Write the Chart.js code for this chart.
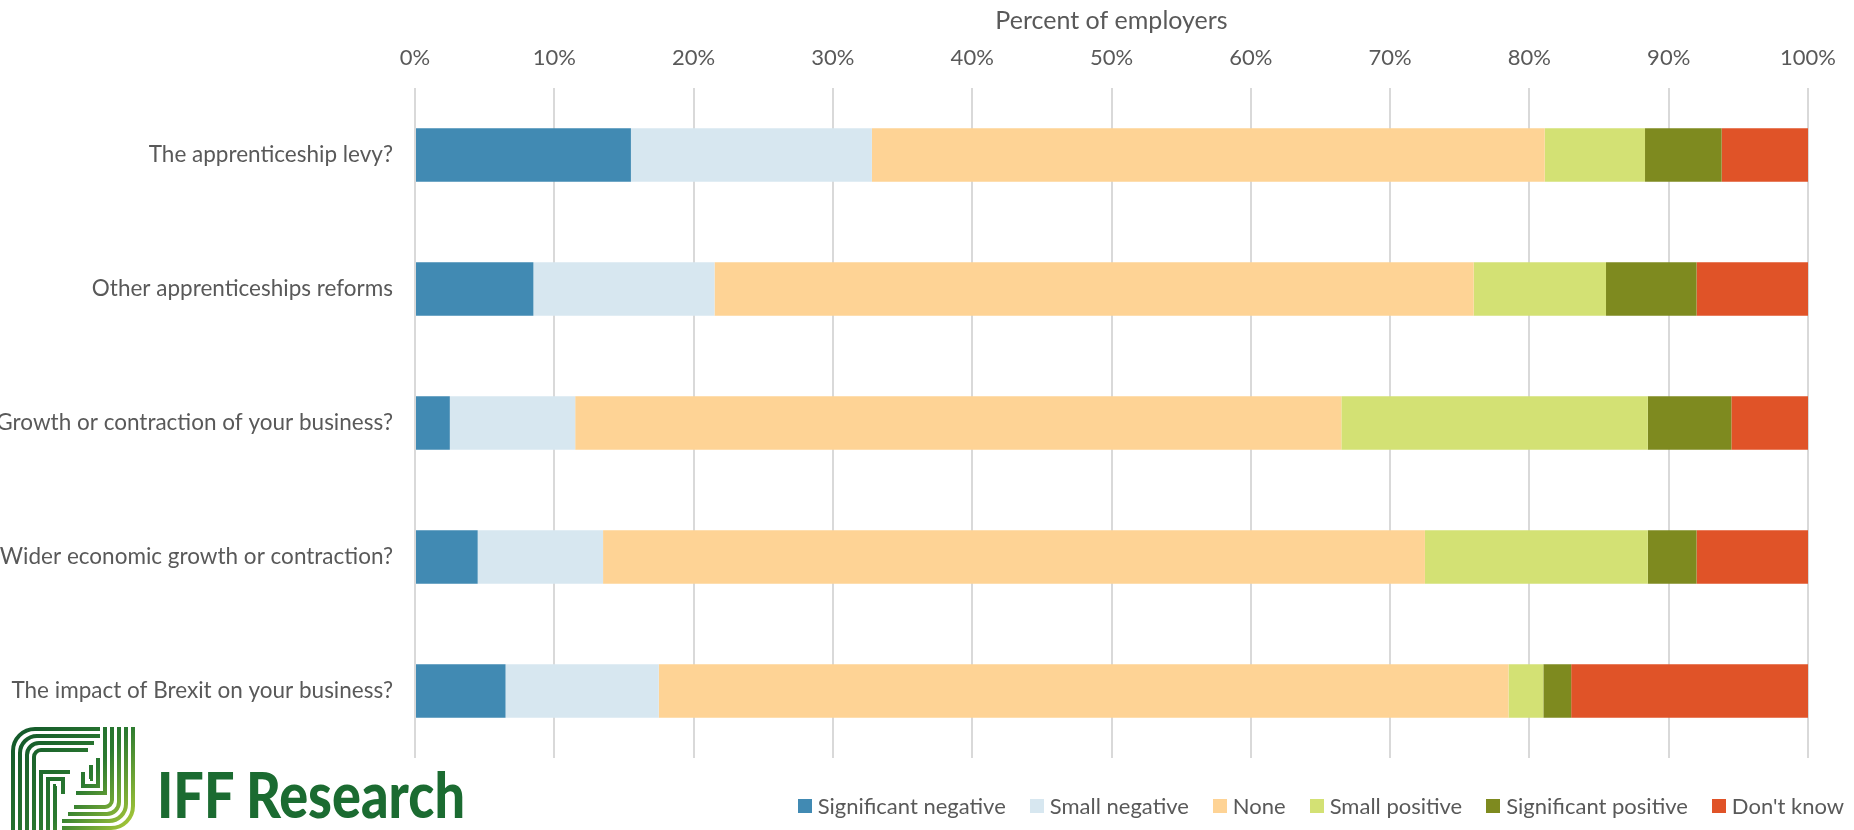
<!DOCTYPE html>
<html>
<head>
<meta charset="utf-8">
<script src="https://cdn.jsdelivr.net/npm/chart.js@4.4.1/dist/chart.umd.min.js"></script>
<style>
	html, body { margin: 0; padding: 0; background: #fff; }
	#wrap { position: relative; width: 1854px; height: 830px; overflow: hidden; }
	#legend {
		position: absolute; right: 10px; top: 793px; height: 26px;
		display: flex; align-items: center;
		font: 22px Lato, sans-serif; color: #595959; line-height: 26px;
	}
	#legend .item { display: flex; align-items: center; margin-left: 24px; white-space: nowrap; }
	#legend .box { width: 14px; height: 14px; margin-right: 6px; }
	#logo { position: absolute; left: 0; top: 720px; filter: blur(0.5px); }
</style>
</head>
<body>
<div id="wrap">
	<canvas id="impactChart" width="1854" height="830"></canvas>
	<div id="legend"></div>
	<svg id="logo" width="480" height="110" viewBox="0 0 480 110">
		<defs>
			<linearGradient id="iffGreen" gradientUnits="userSpaceOnUse" x1="10" y1="7" x2="140" y2="115">
				<stop offset="0" stop-color="#11552a"/>
				<stop offset="0.55" stop-color="#2b7a30"/>
				<stop offset="1" stop-color="#c0d83a"/>
			</linearGradient>
		</defs>
		<g fill="none" stroke="url(#iffGreen)" stroke-width="4">
			<!-- F: nested lines round the top-left corner -->
			<path d="M13 110 V31 A22 22 0 0 1 35 9 H100"/>
			<path d="M20 110 V33 A17 17 0 0 1 37 16 H100"/>
			<path d="M27 110 V35 A12 12 0 0 1 39 23 H94"/>
			<path d="M34 110 V37 A7 7 0 0 1 41 30 H88"/>
			<!-- F middle arm -->
			<path d="M41 110 V52 H70"/>
			<path d="M48 110 V59 H63 V74"/>
			<path d="M55 110 V66 H56"/>
			<!-- J: nested lines round the bottom-right corner -->
			<path d="M133 7 V86 A22 22 0 0 1 111 108 H62"/>
			<path d="M126 7 V84 A17 17 0 0 1 109 101 H62"/>
			<path d="M119 7 V82 A12 12 0 0 1 107 94 H68"/>
			<path d="M112 7 V80 A7 7 0 0 1 105 87 H74"/>
			<!-- J middle arm -->
			<path d="M105 7 V73 H76"/>
			<path d="M98 38 V66 H83 V52"/>
			<path d="M91 45 V59 H90"/>
		</g>
		<text x="157" y="98" fill="#1b6b31" font-family="Lato, sans-serif" font-weight="900"
			font-size="62" textLength="308" lengthAdjust="spacingAndGlyphs">IFF Research</text>
	</svg>
</div>
<script>
// Employer survey: perceived impact of each factor, percent of employers
const categories = [
	"The apprenticeship levy?",
	"Other apprenticeships reforms",
	"Growth or contraction of your business?",
	"Wider economic growth or contraction?",
	"The impact of Brexit on your business?",
];
const significantNegative = [15.5, 8.5, 2.5, 4.5, 6.5];
const smallNegative = [17.3, 13, 9, 9, 11];
const none = [48.3, 54.5, 55, 59, 61];
const smallPositive = [7.2, 9.5, 22, 16, 2.5];
const significantPositive = [5.5, 6.5, 6, 3.5, 2];
const dontKnow = [6.2, 8, 5.5, 8, 17];

const seriesNames = ["Significant negative", "Small negative", "None", "Small positive", "Significant positive", "Don't know"];
const seriesValues = [significantNegative, smallNegative, none, smallPositive, significantPositive, dontKnow];
const colours = ["#418ab3", "#d7e7f0", "#fed395", "#d3e174", "#7e8a1f", "#e05328"];
const tickSuffix = "%";

const textColour = "#595959";
const tickFont = { family: "Lato, sans-serif", size: 22 };
const labelFont = { family: "Lato, sans-serif", size: 22.5 };
const titleFont = { family: "Lato, sans-serif", size: 25 };

const datasets = seriesNames.map((name, i) => ({
	label: name,
	data: seriesValues[i],
	backgroundColor: colours[i],
	borderWidth: 0,
	barPercentage: 0.4,
	categoryPercentage: 1,
}));

new Chart(document.getElementById("impactChart"), {
	type: "bar",
	data: { labels: categories, datasets },
	options: {
		indexAxis: "y",
		responsive: false,
		animation: false,
		layout: { padding: { top: 0, right: 46, bottom: 72, left: 0 } },
		plugins: {
			legend: { display: false },
			tooltip: { enabled: false },
		},
		scales: {
			x: {
				position: "top",
				stacked: true,
				min: 0,
				max: 100,
				ticks: {
					stepSize: 10,
					color: textColour,
					font: tickFont,
					padding: 17,
					callback: (v) => v + tickSuffix,
				},
				grid: { color: "#d9d9d9", lineWidth: 2, drawTicks: false },
				border: { display: false },
				title: {
					display: true,
					text: "Percent of employers",
					color: textColour,
					font: titleFont,
					padding: { top: 6, bottom: 0 },
				},
				afterFit: (scale) => { scale.height = 88; },
			},
			y: {
				stacked: true,
				ticks: { color: textColour, font: labelFont, padding: 22 },
				grid: { display: false, drawTicks: false },
				border: { display: false },
				afterFit: (scale) => { scale.width = 415; },
			},
		},
	},
});

// legend row along the bottom right
const legend = document.getElementById("legend");
seriesNames.forEach((name, i) => {
	const item = document.createElement("span");
	item.className = "item";
	const box = document.createElement("span");
	box.className = "box";
	box.style.background = colours[i];
	item.appendChild(box);
	item.appendChild(document.createTextNode(name));
	legend.appendChild(item);
});
</script>
</body>
</html>
